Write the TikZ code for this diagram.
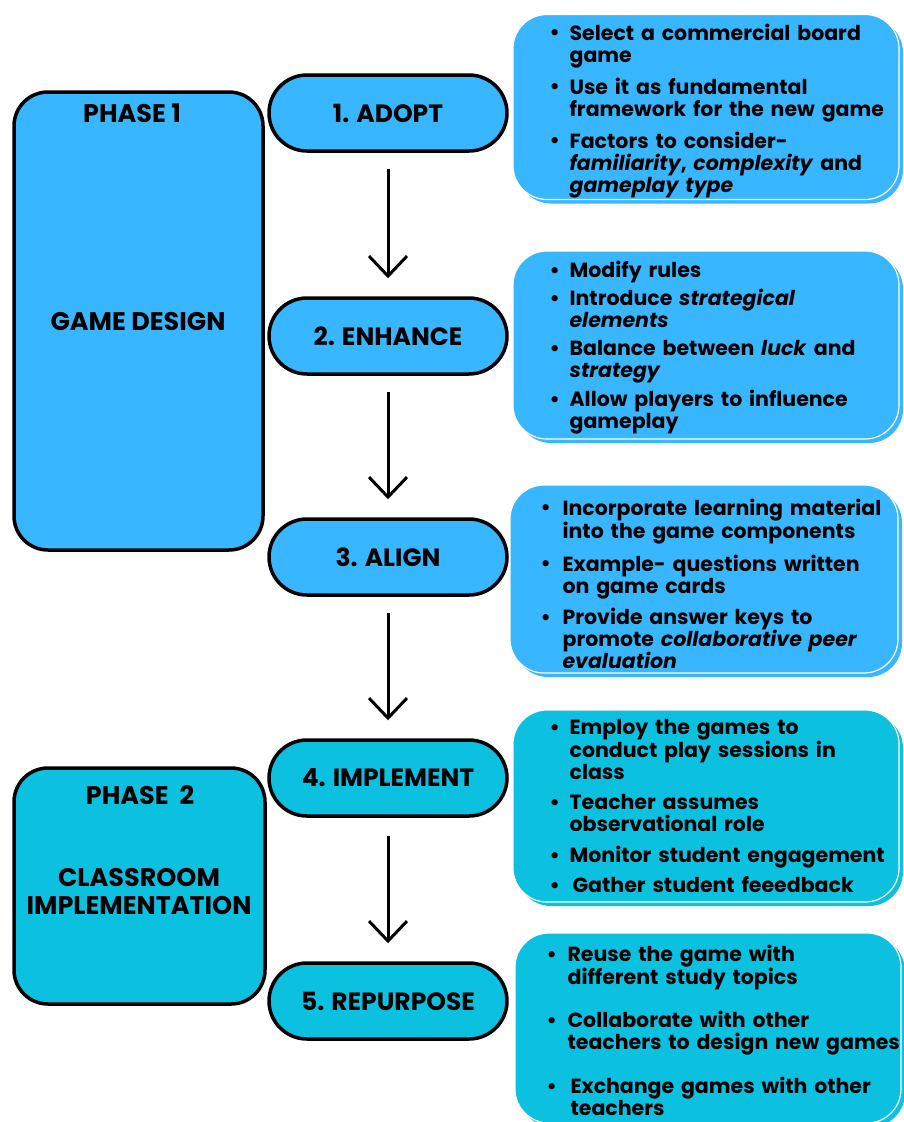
\documentclass[tikz,border=0pt]{standalone}
\usepackage{fontspec}
\setmainfont{Poppins}
\usetikzlibrary{arrows.meta,calc}
\definecolor{lblue}{HTML}{38B6FF}
\definecolor{cyanb}{HTML}{0CC0DF}
\newcommand{\bitem}[2][20pt]{\par\noindent\hangindent=#1\hangafter=1\makebox[#1][l]{\raisebox{0.5pt}{\textbullet}}#2\par}
\tikzset{
  x=1pt,y=-1pt,
  pill/.style={draw=black,line width=3.5pt,rounded corners=38pt,minimum width=238pt,minimum height=76pt,inner sep=0pt,font=\fontsize{25}{28}\selectfont\bfseries},
  phasebox/.style={draw=black,line width=3.5pt,rounded corners=34pt,inner sep=0pt},
  infobox/.style={draw=white,line width=1.2pt,rounded corners=34pt,inner sep=0pt},
  infoshadow/.style={rounded corners=34pt,inner sep=0pt},
  infotext/.style={anchor=west,inner sep=0pt,text width=380pt,align=left,font=\fontsize{20.5}{22}\selectfont\bfseries},
  flow/.style={line width=3pt,-{Straight Barb[length=20pt,width=38pt,line width=3pt]}},
  phlabel/.style={inner sep=0pt,align=center,font=\fontsize{25.5}{28}\selectfont\bfseries}
}
\begin{document}
\hyphenpenalty=10000
\begin{tikzpicture}
\useasboundingbox (0,0) rectangle (903,1122);
% phase boxes
\node[phasebox,fill=lblue,minimum width=249pt,minimum height=458pt] (ph1) at (138.5,321) {};
\node[phlabel] (ph1a) at (132,113) {PHASE 1};
\node[phlabel] (ph1b) at (138,322) {GAME DESIGN};
\node[phasebox,fill=cyanb,minimum width=251pt,minimum height=236pt] (ph2) at (139.5,886) {};
\node[phlabel] (ph2a) at (140,795) {PHASE\ \ 2};
\node[phlabel] (ph2b) at (139,891) {CLASSROOM\\IMPLEMENTATION};
% pills
\node[pill,fill=lblue] (s1) at (388,113) {1. ADOPT};
\node[pill,fill=lblue] (s2) at (388,336) {2. ENHANCE};
\node[pill,fill=lblue] (s3) at (388,557) {3. ALIGN};
\node[pill,fill=cyanb] (s4) at (388,778) {4. IMPLEMENT};
\node[pill,fill=cyanb] (s5) at (388,1001) {5. REPURPOSE};
\draw[flow] ($(s1.south)+(0,16)$) -- ($(s2.north)+(0,-18)$);
\draw[flow] ($(s2.south)+(0,16)$) -- ($(s3.north)+(0,-18)$);
\draw[flow] ($(s3.south)+(0,16)$) -- ($(s4.north)+(0,-18)$);
\draw[flow] ($(s4.south)+(0,18)$) -- ($(s5.north)+(0,-18)$);
% info boxes
\node[infoshadow,fill=lblue,minimum width=386pt,minimum height=185pt] (b1s) at (710,111) {};
\node[infobox,fill=lblue,minimum width=386pt,minimum height=185pt] (b1) at (706,107) {};
\node[infotext] (t1) at ($(b1.west)+(37,1)$) {%
\bitem{Select a commercial board\newline game}\vspace{9pt}
\bitem{Use it as fundamental\newline framework for the new game}\vspace{9pt}
\bitem{Factors to consider-\newline \textit{familiarity}, \textit{complexity} and\newline \textit{gameplay type}}};
\node[infoshadow,fill=lblue,minimum width=386pt,minimum height=188pt] (b2s) at (710,349) {};
\node[infobox,fill=lblue,minimum width=386pt,minimum height=188pt] (b2) at (706,345) {};
\node[infotext] (t2) at ($(b2.west)+(37,0)$) {%
\bitem{Modify rules}\vspace{6pt}
\bitem{Introduce \textit{strategical}\newline \textit{elements}}\vspace{6pt}
\bitem{Balance between \textit{luck} and\newline \textit{strategy}}\vspace{6pt}
\bitem{Allow players to influence\newline gameplay}};
\node[infoshadow,fill=lblue,minimum width=388pt,minimum height=188pt] (b3s) at (708,583) {};
\node[infobox,fill=lblue,minimum width=388pt,minimum height=188pt] (b3) at (704,579) {};
\node[infotext] (t3) at ($(b3.west)+(31,2)$) {%
\bitem[22pt]{Incorporate learning material\newline into the game components}\vspace{10pt}
\bitem[22pt]{Example- questions written\newline on game cards}\vspace{8pt}
\bitem[22pt]{Provide answer keys to\newline promote \textit{collaborative peer}\newline \textit{evaluation}}};
\node[infoshadow,fill=cyanb,minimum width=386pt,minimum height=192pt] (b4s) at (710,810) {};
\node[infobox,fill=cyanb,minimum width=386pt,minimum height=192pt] (b4) at (706,806) {};
\node[infotext] (t4) at ($(b4.west)+(37,-3)$) {%
\bitem{Employ the games to\newline conduct play sessions in\newline class}\vspace{8pt}
\bitem{Teacher assumes\newline observational role}\vspace{9pt}
\bitem{Monitor student engagement}\vspace{8pt}
\bitem{\hspace{3pt}Gather student feeedback}};
\node[infoshadow,fill=cyanb,minimum width=386pt,minimum height=190pt] (b5s) at (712,1032) {};
\node[infobox,fill=cyanb,minimum width=386pt,minimum height=190pt] (b5) at (708,1028) {};
\node[infotext] (t5) at ($(b5.west)+(32,0)$) {%
\bitem[21pt]{Reuse the game with\newline different study topics}\vspace{21pt}
\bitem[21pt]{Collaborate with other\newline teachers to design new games}\vspace{21pt}
\bitem[21pt]{\hspace{3pt}Exchange games with other\newline \hspace*{3pt}teachers}};
\end{tikzpicture}
\end{document}
